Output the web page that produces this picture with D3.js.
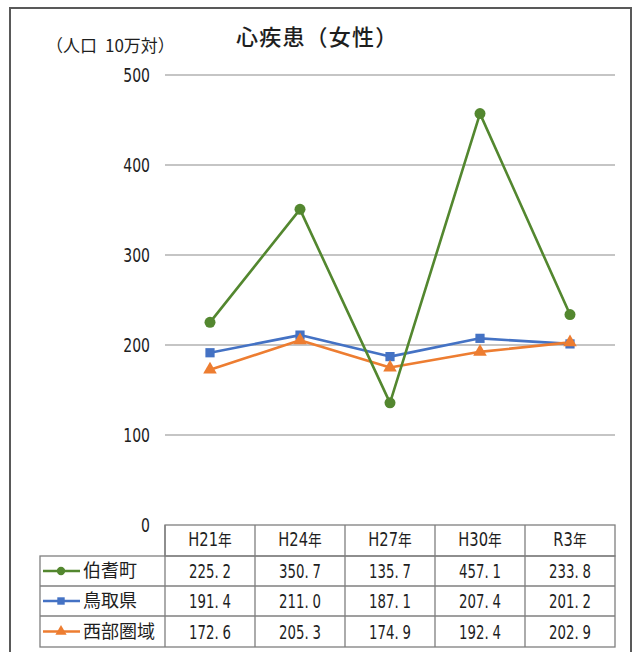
<!DOCTYPE html>
<html>
<head>
<meta charset="utf-8">
<script src="https://cdn.jsdelivr.net/npm/d3@7"></script>
<style>
  html, body { margin: 0; padding: 0; background: #fff; }
  svg { display: block; }
  .jp { font-family: "Noto Sans CJK JP", "Noto Sans", sans-serif; }
  .num { font-family: "DejaVu Sans", "Noto Sans", sans-serif; font-stretch: condensed; }
</style>
</head>
<body>
<svg id="chart" width="634" height="652"></svg>
<script>
// Categories (fiscal years) and series values: heart disease mortality, women, per 100k
const years = ["H21年", "H24年", "H27年", "H30年", "R3年"];
const seriesNames = ["伯耆町", "鳥取県", "西部圏域"];
const houki = [225.2, 350.7, 135.7, 457.1, 233.8];
const tottori = [191.4, 211.0, 187.1, 207.4, 201.2];
const seibu = [172.6, 205.3, 174.9, 192.4, 202.9];
const yTicks = [0, 100, 200, 300, 400, 500];
const seriesColors = ["#53872f", "#4472c4", "#ed7d31"];
const markerShapes = [d3.symbolCircle, d3.symbolSquare, d3.symbolTriangle];

const series = seriesNames.map((name, i) => ({
  name,
  values: [houki, tottori, seibu][i],
  color: seriesColors[i],
  shape: markerShapes[i]
}));

const svg = d3.select("#chart");
const ink = "#1e1e1e";
const squeeze = 0.74; // horizontal compression for the narrow numeric face

// Outer frame
svg.append("rect")
  .attr("x", 10).attr("y", 8).attr("width", 621).attr("height", 680)
  .attr("fill", "#fff").attr("stroke", "#595959").attr("stroke-width", 2);

const plot = { left: 165, right: 615, top: 75, bottom: 525 };

const x = d3.scaleBand().domain(years).range([plot.left, plot.right]);
const y = d3.scaleLinear().domain([0, 500]).range([plot.bottom, plot.top]);
const cx = d => x(d) + x.bandwidth() / 2;

// Title and unit label
svg.append("text").attr("class", "jp")
  .attr("x", 236).attr("y", 45)
  .attr("font-size", 22).attr("font-weight", 500).attr("fill", ink)
  .attr("letter-spacing", 1.2)
  .text("心疾患（女性）");

const unit = svg.append("text").attr("class", "jp")
  .attr("x", 46).attr("y", 52)
  .attr("font-size", 17).attr("fill", ink);
unit.append("tspan").text("（人口");
unit.append("tspan").attr("dx", 8).text("10万対）");

// Horizontal gridlines
svg.append("g")
  .selectAll("line")
  .data(yTicks.filter(t => t > 0))
  .join("line")
  .attr("x1", plot.left).attr("x2", plot.right)
  .attr("y1", d => y(d)).attr("y2", d => y(d))
  .attr("stroke", "#8c8c8c").attr("stroke-width", 1.2);

// Y axis tick labels
const yAxis = d3.axisLeft(y).tickValues(yTicks).tickSize(0).tickPadding(0);
const yg = svg.append("g").attr("transform", `translate(150,0)`).call(yAxis);
yg.select(".domain").remove();
yg.selectAll(".tick text")
  .attr("class", "num")
  .attr("font-size", 20)
  .attr("fill", ink)
  .attr("x", 0)
  .attr("transform", `scale(${squeeze + 0.04},1)`);

// Lines and markers
const line = d3.line()
  .x((d, i) => cx(years[i]))
  .y(d => y(d));

const drawOrder = [1, 2, 0];
drawOrder.forEach(i => {
  const s = series[i];
  svg.append("path")
    .datum(s.values)
    .attr("d", line)
    .attr("fill", "none")
    .attr("stroke", s.color)
    .attr("stroke-width", 2.6)
    .attr("stroke-linejoin", "round");
});
drawOrder.forEach(i => {
  const s = series[i];
  const size = s.shape === d3.symbolCircle ? 95 : (s.shape === d3.symbolSquare ? 85 : 80);
  svg.append("g")
    .selectAll("path")
    .data(s.values)
    .join("path")
    .attr("transform", (d, j) => `translate(${cx(years[j])},${y(d)})`)
    .attr("d", d3.symbol().type(s.shape).size(size))
    .attr("fill", s.color);
});

// Data table below the plot
const rowTop = [525, 556, 586, 616, 647];
const labelLeft = 40;
const tableStroke = "#7f7f7f";
const tg = svg.append("g");

// Header row spans only the data columns
tg.append("rect")
  .attr("x", plot.left).attr("y", rowTop[0])
  .attr("width", plot.right - plot.left).attr("height", rowTop[1] - rowTop[0])
  .attr("fill", "none").attr("stroke", tableStroke).attr("stroke-width", 1.3);
tg.append("rect")
  .attr("x", labelLeft).attr("y", rowTop[1])
  .attr("width", plot.right - labelLeft).attr("height", rowTop[4] - rowTop[1])
  .attr("fill", "none").attr("stroke", tableStroke).attr("stroke-width", 1.3);
// Row separators
tg.selectAll("line.row")
  .data([rowTop[2], rowTop[3]])
  .join("line")
  .attr("x1", labelLeft).attr("x2", plot.right)
  .attr("y1", d => d).attr("y2", d => d)
  .attr("stroke", tableStroke).attr("stroke-width", 1.3);
// Column separators
tg.selectAll("line.col")
  .data(years)
  .join("line")
  .attr("x1", d => x(d)).attr("x2", d => x(d))
  .attr("y1", rowTop[0]).attr("y2", rowTop[4])
  .attr("stroke", tableStroke).attr("stroke-width", 1.3);

// Header labels: narrow latin part plus the 年 glyph
years.forEach(d => {
  const g = tg.append("g")
    .attr("transform", `translate(${cx(d)},${(rowTop[0] + rowTop[1]) / 2}) scale(0.86,1)`);
  const t = g.append("text")
    .attr("dy", "0.36em")
    .attr("text-anchor", "middle")
    .attr("fill", ink);
  t.append("tspan").attr("class", "num").attr("font-size", 19).text(d.slice(0, -1));
  t.append("tspan").attr("class", "jp").attr("font-size", 16).text(d.slice(-1));
});

// Series rows: legend key, name, values
const fmt = d3.format(".1f");
series.forEach((s, i) => {
  const yc = (rowTop[i + 1] + rowTop[i + 2]) / 2;
  tg.append("line")
    .attr("x1", 43).attr("x2", 80)
    .attr("y1", yc).attr("y2", yc)
    .attr("stroke", s.color).attr("stroke-width", 2.6);
  tg.append("path")
    .attr("transform", `translate(61,${yc})`)
    .attr("d", d3.symbol().type(s.shape).size(55))
    .attr("fill", s.color);
  tg.append("text")
    .attr("class", "jp")
    .attr("x", 83).attr("y", yc)
    .attr("dy", "0.36em")
    .attr("font-size", 18)
    .attr("fill", ink)
    .text(s.name);
  s.values.forEach((v, j) => {
    const str = fmt(v);
    const dot = str.indexOf(".");
    const t = tg.append("text")
      .attr("class", "num")
      .attr("transform", `translate(${cx(years[j])},${yc}) scale(${squeeze},1)`)
      .attr("dy", "0.36em")
      .attr("text-anchor", "middle")
      .attr("font-size", 20)
      .attr("fill", ink);
    t.append("tspan").text(str.slice(0, dot + 1));
    t.append("tspan").attr("dx", 5).text(str.slice(dot + 1));
  });
});
</script>
</body>
</html>
